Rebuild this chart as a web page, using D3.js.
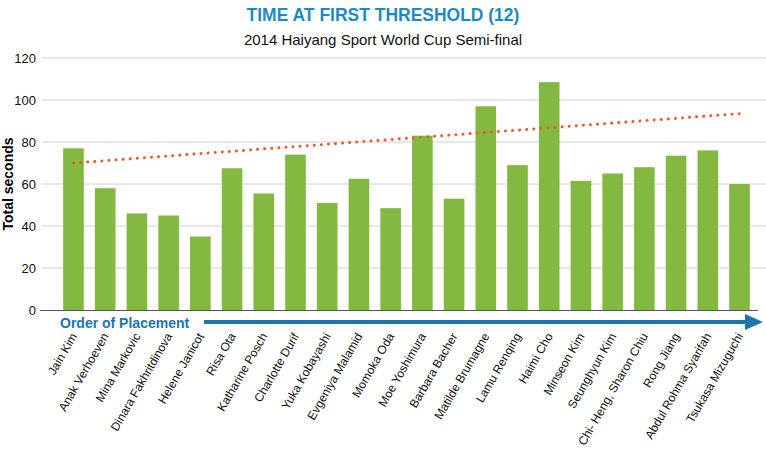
<!DOCTYPE html>
<html><head><meta charset="utf-8">
<script src="https://cdn.jsdelivr.net/npm/d3@7"></script>
<style>body{margin:0;background:#fff}svg{display:block}</style>
</head><body><svg id="c" width="766" height="460"></svg>
<script>
const names=["Jain Kim","Anak Verhoeven","Mina Markovic","Dinara Fakhritdinova","Helene Janicot","Risa Ota","Katharine Posch","Charlotte Durif","Yuka Kobayashi","Evgeniya Malamid","Momoka Oda","Moe Yoshimura","Barbara Bacher","Matilde Brumagne","Lamu Renqing","Haimi Cho","Minseon Kim","Seunghyun Kim","Chi- Heng, Sharon Chiu","Rong Jiang","Abdul Rohma Syarifah","Tsukasa Mizuguchi"];
const values=[77,58,46,45,35,67.5,55.5,74,51,62.5,48.5,83,53,97,69,108.5,61.5,65,68,73.5,76,60];
const trend=[70,93.5];
const yTicks=[0,20,40,60,80,100,120];
const svg=d3.select("#c");
const F="Liberation Sans, Arial, sans-serif";
const x=d3.scaleBand().domain(names).range([60,753]).paddingInner(0.35).paddingOuter(0.1);
const y=d3.scaleLinear().domain([0,120]).range([310,58]);
svg.append("text").attr("x",383).attr("y",21).attr("text-anchor","middle").attr("font-family",F).attr("font-weight","bold").attr("font-size",19).attr("fill","#1a8ac8").attr("transform","translate(383,0) scale(0.92,1) translate(-383,0)").text("TIME AT FIRST THRESHOLD (12)");
svg.append("text").attr("x",383).attr("y",45).attr("text-anchor","middle").attr("font-family",F).attr("font-size",15).attr("fill","#111").text("2014 Haiyang Sport World Cup Semi-final");
svg.append("g").selectAll("line").data(yTicks.filter(d=>d>0)).join("line").attr("x1",42).attr("x2",766).attr("y1",d=>y(d)).attr("y2",d=>y(d)).attr("stroke","#d0d0d0").attr("stroke-width",1);
svg.append("g").selectAll("text").data(yTicks).join("text").attr("x",36).attr("y",d=>y(d)+5).attr("text-anchor","end").attr("font-family",F).attr("font-size",13).attr("fill","#111").text(d=>d);
svg.append("text").attr("transform","translate(13,184) rotate(-90)").attr("text-anchor","middle").attr("font-family",F).attr("font-weight","bold").attr("font-size",14).text("Total seconds");
svg.append("g").selectAll("rect").data(names).join("rect").attr("x",d=>x(d)).attr("width",x.bandwidth()).attr("y",(d,i)=>y(values[i])).attr("height",(d,i)=>y(0)-y(values[i])).attr("fill","#83b841");
svg.append("line").attr("x1",40).attr("x2",758).attr("y1",310.5).attr("y2",310.5).attr("stroke","#555").attr("stroke-width",1);
const cx=d=>x(d)+x.bandwidth()/2;
svg.append("line").attr("x1",cx(names[0])).attr("x2",cx(names[names.length-1])).attr("y1",y(trend[0])).attr("y2",y(trend[1])).attr("stroke","#f05a28").attr("stroke-width",3).attr("stroke-linecap","round").attr("stroke-dasharray","0.1,7");
svg.append("text").attr("x",60).attr("y",328).attr("font-family",F).attr("font-weight","bold").attr("font-size",14).attr("fill","#1a75b5").text("Order of Placement");
svg.append("line").attr("x1",204).attr("x2",748).attr("y1",322).attr("y2",322).attr("stroke","#1a75b5").attr("stroke-width",4);
svg.append("path").attr("d","M745,314 L763,322 L745,330 Z").attr("fill","#1a75b5");
svg.append("g").selectAll("text").data(names).join("text").attr("transform",d=>`translate(${cx(d)+4},${336}) rotate(-60)`).attr("text-anchor","end").attr("font-family",F).attr("font-size",12).attr("fill","#111").text(d=>d);
</script></body></html>
